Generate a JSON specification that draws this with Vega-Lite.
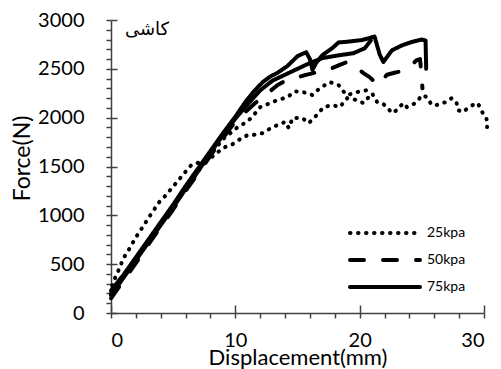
{
  "$schema": "https://vega.github.io/schema/vega-lite/v6.json",
  "width": 373,
  "height": 293,
  "autosize": {"type": "none"},
  "padding": {"left": 111, "top": 20, "right": 17, "bottom": 56},
  "background": "white",
  "config": {"view": {"stroke": null}, "font": "Lato"},
  "resolve": {"axis": {"x": "independent", "y": "independent"}},
  "layer": [
    {
      "data": {"values": [
        {"p":"25kpa","run":"B","i":0,"d":0.1,"F":280},
        {"p":"25kpa","run":"B","i":1,"d":0.3,"F":350},
        {"p":"25kpa","run":"B","i":2,"d":0.55,"F":420},
        {"p":"25kpa","run":"B","i":3,"d":1.0,"F":560},
        {"p":"25kpa","run":"B","i":4,"d":1.4,"F":640},
        {"p":"25kpa","run":"B","i":5,"d":1.8,"F":730},
        {"p":"25kpa","run":"B","i":6,"d":2.2,"F":815},
        {"p":"25kpa","run":"B","i":7,"d":2.6,"F":890},
        {"p":"25kpa","run":"B","i":8,"d":3.1,"F":990},
        {"p":"25kpa","run":"B","i":9,"d":3.5,"F":1065},
        {"p":"25kpa","run":"B","i":10,"d":3.8,"F":1125},
        {"p":"25kpa","run":"B","i":11,"d":4.3,"F":1190},
        {"p":"25kpa","run":"B","i":12,"d":4.9,"F":1280},
        {"p":"25kpa","run":"B","i":13,"d":5.3,"F":1340},
        {"p":"25kpa","run":"B","i":14,"d":5.95,"F":1440},
        {"p":"25kpa","run":"B","i":15,"d":6.5,"F":1520},
        {"p":"25kpa","run":"B","i":16,"d":7.3,"F":1550},
        {"p":"25kpa","run":"B","i":17,"d":8.1,"F":1597},
        {"p":"25kpa","run":"B","i":18,"d":8.6,"F":1648},
        {"p":"25kpa","run":"B","i":19,"d":9.2,"F":1700},
        {"p":"25kpa","run":"B","i":20,"d":9.8,"F":1730},
        {"p":"25kpa","run":"B","i":21,"d":10.5,"F":1790},
        {"p":"25kpa","run":"B","i":22,"d":11.0,"F":1822},
        {"p":"25kpa","run":"B","i":23,"d":11.4,"F":1822},
        {"p":"25kpa","run":"B","i":24,"d":12.2,"F":1842},
        {"p":"25kpa","run":"B","i":25,"d":13.0,"F":1904},
        {"p":"25kpa","run":"B","i":26,"d":13.8,"F":1944},
        {"p":"25kpa","run":"B","i":27,"d":14.0,"F":1958},
        {"p":"25kpa","run":"B","i":28,"d":14.3,"F":1893},
        {"p":"25kpa","run":"B","i":29,"d":14.6,"F":1996},
        {"p":"25kpa","run":"B","i":30,"d":15.4,"F":1996},
        {"p":"25kpa","run":"B","i":31,"d":15.9,"F":1944},
        {"p":"25kpa","run":"B","i":32,"d":16.4,"F":2006},
        {"p":"25kpa","run":"B","i":33,"d":17.1,"F":2108},
        {"p":"25kpa","run":"B","i":34,"d":17.8,"F":2129},
        {"p":"25kpa","run":"B","i":35,"d":18.4,"F":2108},
        {"p":"25kpa","run":"B","i":36,"d":19.0,"F":2200},
        {"p":"25kpa","run":"B","i":37,"d":19.8,"F":2180},
        {"p":"25kpa","run":"B","i":38,"d":20.3,"F":2149},
        {"p":"25kpa","run":"B","i":39,"d":21.0,"F":2250},
        {"p":"25kpa","run":"B","i":40,"d":21.4,"F":2160},
        {"p":"25kpa","run":"B","i":41,"d":21.8,"F":2150},
        {"p":"25kpa","run":"B","i":42,"d":22.2,"F":2108},
        {"p":"25kpa","run":"B","i":43,"d":22.6,"F":2047},
        {"p":"25kpa","run":"B","i":44,"d":23.0,"F":2078},
        {"p":"25kpa","run":"B","i":45,"d":23.5,"F":2149},
        {"p":"25kpa","run":"B","i":46,"d":23.8,"F":2108},
        {"p":"25kpa","run":"B","i":47,"d":24.2,"F":2129},
        {"p":"25kpa","run":"B","i":48,"d":24.6,"F":2160},
        {"p":"25kpa","run":"B","i":49,"d":25.0,"F":2231},
        {"p":"25kpa","run":"B","i":50,"d":25.4,"F":2211},
        {"p":"25kpa","run":"B","i":51,"d":25.8,"F":2129},
        {"p":"25kpa","run":"B","i":52,"d":26.2,"F":2129},
        {"p":"25kpa","run":"B","i":53,"d":26.6,"F":2149},
        {"p":"25kpa","run":"B","i":54,"d":27.0,"F":2160},
        {"p":"25kpa","run":"B","i":55,"d":27.4,"F":2200},
        {"p":"25kpa","run":"B","i":56,"d":27.8,"F":2149},
        {"p":"25kpa","run":"B","i":57,"d":27.9,"F":2078},
        {"p":"25kpa","run":"B","i":58,"d":28.3,"F":2057},
        {"p":"25kpa","run":"B","i":59,"d":28.7,"F":2098},
        {"p":"25kpa","run":"B","i":60,"d":29.1,"F":2129},
        {"p":"25kpa","run":"B","i":61,"d":29.5,"F":2149},
        {"p":"25kpa","run":"B","i":62,"d":29.9,"F":2047},
        {"p":"25kpa","run":"B","i":63,"d":30.2,"F":1996},
        {"p":"25kpa","run":"B","i":64,"d":30.25,"F":1904},
        {"p":"25kpa","run":"A","i":0,"d":0,"F":200},
        {"p":"25kpa","run":"A","i":1,"d":1,"F":370},
        {"p":"25kpa","run":"A","i":2,"d":2,"F":550},
        {"p":"25kpa","run":"A","i":3,"d":3,"F":730},
        {"p":"25kpa","run":"A","i":4,"d":4,"F":910},
        {"p":"25kpa","run":"A","i":5,"d":5,"F":1090},
        {"p":"25kpa","run":"A","i":6,"d":6,"F":1270},
        {"p":"25kpa","run":"A","i":7,"d":7,"F":1450},
        {"p":"25kpa","run":"A","i":8,"d":8,"F":1620},
        {"p":"25kpa","run":"A","i":9,"d":9,"F":1780},
        {"p":"25kpa","run":"A","i":10,"d":10.2,"F":1904},
        {"p":"25kpa","run":"A","i":11,"d":10.9,"F":1955},
        {"p":"25kpa","run":"A","i":12,"d":11.3,"F":2000},
        {"p":"25kpa","run":"A","i":13,"d":12.0,"F":2108},
        {"p":"25kpa","run":"A","i":14,"d":12.8,"F":2149},
        {"p":"25kpa","run":"A","i":15,"d":13.4,"F":2180},
        {"p":"25kpa","run":"A","i":16,"d":14.2,"F":2211},
        {"p":"25kpa","run":"A","i":17,"d":14.8,"F":2270},
        {"p":"25kpa","run":"A","i":18,"d":15.5,"F":2260},
        {"p":"25kpa","run":"A","i":19,"d":16.2,"F":2231},
        {"p":"25kpa","run":"A","i":20,"d":16.8,"F":2303},
        {"p":"25kpa","run":"A","i":21,"d":17.6,"F":2364},
        {"p":"25kpa","run":"A","i":22,"d":18.3,"F":2334},
        {"p":"25kpa","run":"A","i":23,"d":18.6,"F":2280},
        {"p":"25kpa","run":"A","i":24,"d":19.0,"F":2231},
        {"p":"25kpa","run":"A","i":25,"d":19.8,"F":2262},
        {"p":"25kpa","run":"A","i":26,"d":20.6,"F":2282},
        {"p":"25kpa","run":"A","i":27,"d":21.0,"F":2313},
        {"p":"50kpa","run":"D","i":0,"d":0,"F":150},
        {"p":"50kpa","run":"D","i":1,"d":1,"F":330},
        {"p":"50kpa","run":"D","i":2,"d":2,"F":510},
        {"p":"50kpa","run":"D","i":3,"d":3,"F":700},
        {"p":"50kpa","run":"D","i":4,"d":4,"F":880},
        {"p":"50kpa","run":"D","i":5,"d":5,"F":1060},
        {"p":"50kpa","run":"D","i":6,"d":6,"F":1250},
        {"p":"50kpa","run":"D","i":7,"d":7,"F":1430},
        {"p":"50kpa","run":"D","i":8,"d":8,"F":1610},
        {"p":"50kpa","run":"D","i":9,"d":9,"F":1790},
        {"p":"50kpa","run":"D","i":10,"d":10,"F":1960},
        {"p":"50kpa","run":"D","i":11,"d":10.8,"F":2057},
        {"p":"50kpa","run":"D","i":12,"d":11.6,"F":2150},
        {"p":"50kpa","run":"D","i":13,"d":12.4,"F":2231},
        {"p":"50kpa","run":"D","i":14,"d":13.4,"F":2334},
        {"p":"50kpa","run":"D","i":15,"d":14.2,"F":2390},
        {"p":"50kpa","run":"D","i":16,"d":14.8,"F":2405},
        {"p":"50kpa","run":"D","i":17,"d":15.6,"F":2436},
        {"p":"50kpa","run":"D","i":18,"d":16.4,"F":2460},
        {"p":"50kpa","run":"D","i":19,"d":17.0,"F":2487},
        {"p":"50kpa","run":"D","i":20,"d":17.8,"F":2508},
        {"p":"50kpa","run":"D","i":21,"d":18.4,"F":2540},
        {"p":"50kpa","run":"D","i":22,"d":19.0,"F":2570},
        {"p":"50kpa","run":"D","i":23,"d":19.8,"F":2510},
        {"p":"50kpa","run":"D","i":24,"d":20.3,"F":2456},
        {"p":"50kpa","run":"D","i":25,"d":20.8,"F":2415},
        {"p":"50kpa","run":"D","i":26,"d":21.5,"F":2334},
        {"p":"50kpa","run":"D","i":27,"d":21.9,"F":2400},
        {"p":"50kpa","run":"D","i":28,"d":22.2,"F":2440},
        {"p":"50kpa","run":"D","i":29,"d":22.8,"F":2460},
        {"p":"50kpa","run":"D","i":30,"d":23.5,"F":2480},
        {"p":"50kpa","run":"D","i":31,"d":24.0,"F":2520},
        {"p":"50kpa","run":"D","i":32,"d":24.6,"F":2590},
        {"p":"50kpa","run":"D","i":33,"d":24.85,"F":2600},
        {"p":"50kpa","run":"D","i":34,"d":24.95,"F":2480},
        {"p":"50kpa","run":"D","i":35,"d":25.05,"F":2300},
        {"p":"75kpa","run":"S2","i":0,"d":0,"F":180},
        {"p":"75kpa","run":"S2","i":1,"d":1,"F":360},
        {"p":"75kpa","run":"S2","i":2,"d":2,"F":540},
        {"p":"75kpa","run":"S2","i":3,"d":3,"F":720},
        {"p":"75kpa","run":"S2","i":4,"d":4,"F":900},
        {"p":"75kpa","run":"S2","i":5,"d":5,"F":1080},
        {"p":"75kpa","run":"S2","i":6,"d":6,"F":1270},
        {"p":"75kpa","run":"S2","i":7,"d":7,"F":1450},
        {"p":"75kpa","run":"S2","i":8,"d":8,"F":1640},
        {"p":"75kpa","run":"S2","i":9,"d":9,"F":1820},
        {"p":"75kpa","run":"S2","i":10,"d":10,"F":1990},
        {"p":"75kpa","run":"S2","i":11,"d":10.8,"F":2110},
        {"p":"75kpa","run":"S2","i":12,"d":12,"F":2280},
        {"p":"75kpa","run":"S2","i":13,"d":13,"F":2380},
        {"p":"75kpa","run":"S2","i":14,"d":14,"F":2440},
        {"p":"75kpa","run":"S2","i":15,"d":15,"F":2500},
        {"p":"75kpa","run":"S2","i":16,"d":16,"F":2560},
        {"p":"75kpa","run":"S2","i":17,"d":17,"F":2610},
        {"p":"75kpa","run":"S2","i":18,"d":18.4,"F":2640},
        {"p":"75kpa","run":"S2","i":19,"d":19.5,"F":2660},
        {"p":"75kpa","run":"S2","i":20,"d":20.4,"F":2710},
        {"p":"75kpa","run":"S2","i":21,"d":20.9,"F":2790},
        {"p":"75kpa","run":"S","i":0,"d":0,"F":230},
        {"p":"75kpa","run":"S","i":1,"d":0.5,"F":310},
        {"p":"75kpa","run":"S","i":2,"d":1,"F":390},
        {"p":"75kpa","run":"S","i":3,"d":2,"F":570},
        {"p":"75kpa","run":"S","i":4,"d":3,"F":750},
        {"p":"75kpa","run":"S","i":5,"d":4,"F":930},
        {"p":"75kpa","run":"S","i":6,"d":5,"F":1110},
        {"p":"75kpa","run":"S","i":7,"d":6,"F":1300},
        {"p":"75kpa","run":"S","i":8,"d":7,"F":1480},
        {"p":"75kpa","run":"S","i":9,"d":8,"F":1660},
        {"p":"75kpa","run":"S","i":10,"d":9,"F":1840},
        {"p":"75kpa","run":"S","i":11,"d":10,"F":2010},
        {"p":"75kpa","run":"S","i":12,"d":10.8,"F":2160},
        {"p":"75kpa","run":"S","i":13,"d":11.5,"F":2270},
        {"p":"75kpa","run":"S","i":14,"d":12.2,"F":2364},
        {"p":"75kpa","run":"S","i":15,"d":12.8,"F":2420},
        {"p":"75kpa","run":"S","i":16,"d":13.4,"F":2460},
        {"p":"75kpa","run":"S","i":17,"d":14.2,"F":2530},
        {"p":"75kpa","run":"S","i":18,"d":15.0,"F":2630},
        {"p":"75kpa","run":"S","i":19,"d":15.7,"F":2670},
        {"p":"75kpa","run":"S","i":20,"d":16.0,"F":2600},
        {"p":"75kpa","run":"S","i":21,"d":16.2,"F":2490},
        {"p":"75kpa","run":"S","i":22,"d":16.5,"F":2560},
        {"p":"75kpa","run":"S","i":23,"d":17.0,"F":2640},
        {"p":"75kpa","run":"S","i":24,"d":17.8,"F":2712},
        {"p":"75kpa","run":"S","i":25,"d":18.3,"F":2770},
        {"p":"75kpa","run":"S","i":26,"d":19.2,"F":2780},
        {"p":"75kpa","run":"S","i":27,"d":20.2,"F":2795},
        {"p":"75kpa","run":"S","i":28,"d":21.2,"F":2830},
        {"p":"75kpa","run":"S","i":29,"d":21.6,"F":2650},
        {"p":"75kpa","run":"S","i":30,"d":21.9,"F":2570},
        {"p":"75kpa","run":"S","i":31,"d":22.6,"F":2690},
        {"p":"75kpa","run":"S","i":32,"d":23.4,"F":2740},
        {"p":"75kpa","run":"S","i":33,"d":24.2,"F":2775},
        {"p":"75kpa","run":"S","i":34,"d":25.0,"F":2800},
        {"p":"75kpa","run":"S","i":35,"d":25.3,"F":2790},
        {"p":"75kpa","run":"S","i":36,"d":25.35,"F":2500}
      ]},
      "mark": {"type": "line", "strokeWidth": 4, "strokeCap": "round", "strokeJoin": "round", "color": "black", "clip": false},
      "encoding": {
        "x": {
          "field": "d", "type": "quantitative",
          "scale": {"domain": [0, 30], "nice": false, "zero": false},
          "axis": {
            "orient": "bottom",
            "values": [0,2,4,6,8,10,12,14,16,18,20,22,24,26,28,30],
            "labelExpr": "datum.value % 10 === 0 ? datum.label : ''",
            "labelOverlap": false,
            "labelFont": "Lato", "labelFontSize": 20, "labelColor": "black",
            "labelPadding": 12,
            "tickSize": 5, "tickWidth": 1.5, "tickColor": "#404040",
            "domainColor": "#404040", "domainWidth": 1.5,
            "grid": false,
            "title": "Displacement(mm)",
            "titleFont": "Lato", "titleFontSize": 22, "titleFontWeight": "normal", "titleColor": "black",
            "titleBaseline": "alphabetic", "titleY": 51
          }
        },
        "y": {
          "field": "F", "type": "quantitative",
          "scale": {"domain": [0, 3000], "nice": false},
          "axis": {
            "orient": "left",
            "values": [0,100,200,300,400,500,600,700,800,900,1000,1100,1200,1300,1400,1500,1600,1700,1800,1900,2000,2100,2200,2300,2400,2500,2600,2700,2800,2900,3000],
            "labelExpr": "datum.value % 500 === 0 ? datum.label : ''",
            "format": "d",
            "labelOverlap": false,
            "labelFont": "Lato", "labelFontSize": 20, "labelColor": "black",
            "labelPadding": 22,
            "tickSize": 5, "tickWidth": 1.5, "tickColor": "#404040",
            "domainColor": "#404040", "domainWidth": 1.5,
            "grid": false,
            "title": "Force(N)",
            "titleFont": "Lato", "titleFontSize": 23, "titleFontWeight": "normal", "titleColor": "black",
            "titleAngle": -90, "titleX": -89, "titleY": 138, "titleAlign": "center", "titleBaseline": "middle"
          }
        },
        "strokeDash": {
          "field": "p", "type": "nominal",
          "scale": {"domain": ["25kpa", "50kpa", "75kpa"], "range": [[0.5, 7.5], [14, 19], [1, 0]]},
          "legend": {
            "orient": "none", "legendX": 237, "legendY": 203, "title": null, "padding": 0,
            "symbolType": "stroke", "symbolSize": 4900, "symbolStrokeWidth": 4, "symbolStrokeColor": "black",
            "clipHeight": 20, "rowPadding": 7,
            "labelFont": "Lato", "labelFontSize": 14, "labelColor": "black", "labelOffset": 5,
            "encode": {"symbols": {"update": {"strokeCap": {"value": "round"}}}}
          }
        },
        "detail": {"field": "run", "type": "nominal"},
        "order": {"field": "i", "type": "quantitative"}
      }
    },
    {
      "data": {"values": [{"label": "کاشی"}]},
      "mark": {"type": "text", "font": "DejaVu Sans", "fontSize": 18, "color": "black", "align": "center", "baseline": "middle"},
      "encoding": {
        "text": {"field": "label", "type": "nominal"},
        "x": {
          "datum": 2.9, "type": "quantitative",
          "axis": {"orient": "bottom", "values": [0, 10, 20, 30], "tickSize": -8, "tickWidth": 1.5, "tickColor": "#404040", "labels": false, "domain": false, "grid": false, "title": null}
        },
        "y": {
          "datum": 2897, "type": "quantitative",
          "axis": {"orient": "left", "values": [0, 500, 1000, 1500, 2000, 2500, 3000], "tickSize": -6, "tickWidth": 1.5, "tickColor": "#404040", "labels": false, "domain": false, "grid": false, "title": null}
        }
      }
    }
  ]
}
